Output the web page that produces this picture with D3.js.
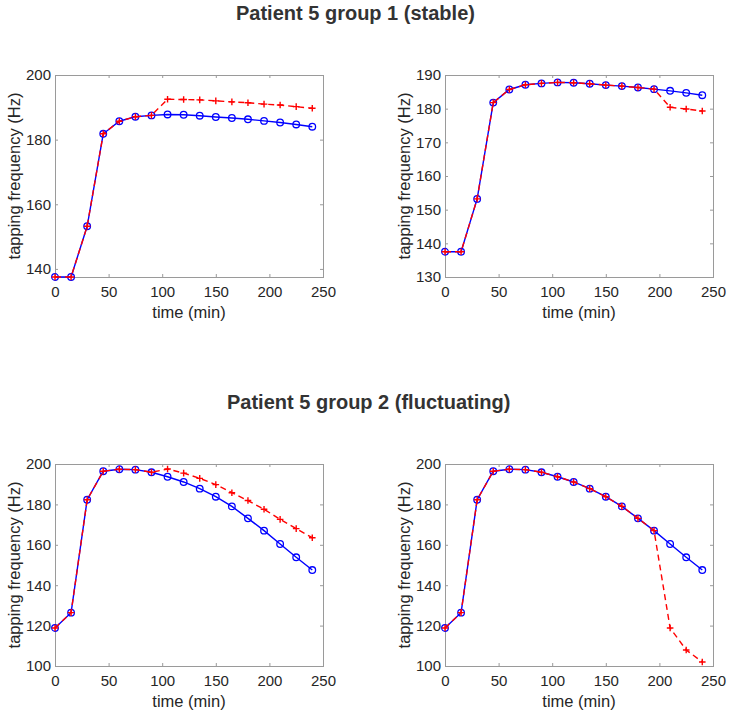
<!DOCTYPE html>
<html>
<head>
<meta charset="utf-8">
<script src="https://cdn.jsdelivr.net/npm/d3@7"></script>
<style>
  html, body { margin: 0; padding: 0; background: #fff; }
  svg { display: block; font-family: "Liberation Sans", Arial, Helvetica, sans-serif; }
</style>
</head>
<body>
<svg id="chart" width="750" height="714"></svg>
<script>
// ---- data ----
const times = [0, 15, 30, 45, 60, 75, 90, 105, 120, 135, 150, 165, 180, 195, 210, 225, 240];

const titles = ["Patient 5 group 1 (stable)", "Patient 5 group 2 (fluctuating)"];
const xTicks = [0, 50, 100, 150, 200, 250];
const yLabel = "tapping frequency (Hz)";
const xLabel = "time (min)";

// group 1 (stable)
const g1Blue  = [137.5, 137.5, 153.2, 181.8, 185.7, 187.1, 187.5, 187.8, 187.7, 187.4, 187.0, 186.7, 186.3, 185.8, 185.3, 184.7, 184.0];
const g1RedA  = [137.5, 137.5, 153.2, 181.8, 185.7, 187.1, 187.5, 192.5, 192.4, 192.3, 192.0, 191.7, 191.4, 191.0, 190.7, 190.2, 189.7];
const g1RedB  = [137.5, 137.5, 153.2, 181.8, 185.7, 187.1, 187.5, 187.8, 187.7, 187.4, 187.0, 186.7, 186.3, 185.8, 180.4, 179.9, 179.3];

// group 2 (fluctuating)
const g2Blue  = [118.8, 126.4, 182.3, 196.4, 197.4, 197.2, 195.9, 193.7, 191.1, 187.8, 183.8, 179.0, 173.1, 167.0, 160.4, 153.8, 147.5];
const g2RedA  = [118.8, 126.4, 182.3, 196.4, 197.4, 197.2, 195.9, 197.5, 195.5, 192.9, 189.8, 185.8, 181.9, 177.6, 172.6, 168.0, 163.5];
const g2RedB  = [118.8, 126.4, 182.3, 196.4, 197.4, 197.2, 195.9, 193.7, 191.1, 187.8, 183.8, 179.0, 173.1, 167.0, 118.8, 107.9, 102.0];

const yDomains = [[137.5, 200], [130, 190], [100, 200], [100, 200]];
const yTicksList = [[140, 160, 180, 200], [130, 140, 150, 160, 170, 180, 190], [100, 120, 140, 160, 180, 200], [100, 120, 140, 160, 180, 200]];

// ---- layout ----
const panels = [
  { left: 55,  top: 75,  blue: g1Blue, red: g1RedA, yd: yDomains[0], yt: yTicksList[0] },
  { left: 445, top: 75,  blue: g1Blue, red: g1RedB, yd: yDomains[1], yt: yTicksList[1] },
  { left: 55,  top: 464, blue: g2Blue, red: g2RedA, yd: yDomains[2], yt: yTicksList[2] },
  { left: 445, top: 464, blue: g2Blue, red: g2RedB, yd: yDomains[3], yt: yTicksList[3] }
];
const W = 268, H = 202;
const axisColor = "#9a9a9a", textColor = "#262626";

const svg = d3.select("#chart");

svg.append("text").attr("x", 236).attr("y", 20)
  .attr("font-size", 20).attr("font-weight", "bold").attr("fill", "#333")
  .text(titles[0]);
svg.append("text").attr("x", 227).attr("y", 409)
  .attr("font-size", 20).attr("font-weight", "bold").attr("fill", "#333")
  .text(titles[1]);

panels.forEach(p => {
  const g = svg.append("g").attr("transform", `translate(${p.left},${p.top})`);
  const x = d3.scaleLinear().domain([0, 250]).range([0, W]);
  const y = d3.scaleLinear().domain(p.yd).range([H, 0]);

  const styleAxis = sel => {
    sel.select(".domain").remove();
    sel.attr("font-size", 15).attr("font-family", "Liberation Sans, Arial, sans-serif");
    sel.selectAll(".tick line").attr("stroke", axisColor).attr("stroke-width", 1);
    sel.selectAll(".tick text").attr("fill", textColor);
  };
  g.append("g").attr("transform", `translate(0,${H})`)
    .call(d3.axisBottom(x).tickValues(xTicks).tickSizeInner(-3).tickSizeOuter(0).tickPadding(9))
    .call(styleAxis);
  g.append("g")
    .call(d3.axisTop(x).tickValues(xTicks).tickSizeInner(-3).tickSizeOuter(0).tickFormat(""))
    .call(styleAxis);
  g.append("g")
    .call(d3.axisLeft(y).tickValues(p.yt).tickSizeInner(-3).tickSizeOuter(0).tickPadding(4))
    .call(styleAxis);
  g.append("g").attr("transform", `translate(${W},0)`)
    .call(d3.axisRight(y).tickValues(p.yt).tickSizeInner(-3).tickSizeOuter(0).tickFormat(""))
    .call(styleAxis);

  g.append("rect").attr("x", 0.5).attr("y", 0.5).attr("width", W).attr("height", H)
    .attr("fill", "none").attr("stroke", axisColor).attr("stroke-width", 1);

  // labels
  g.append("text").attr("x", W / 2).attr("y", H + 41)
    .attr("text-anchor", "middle").attr("font-size", 16.5).attr("fill", textColor)
    .text(xLabel);
  g.append("text").attr("transform", `translate(-35,${H / 2}) rotate(-90)`)
    .attr("text-anchor", "middle").attr("font-size", 16.5).attr("fill", textColor)
    .text(yLabel);

  const line = d3.line().x((d, i) => x(times[i])).y(d => y(d));

  // blue model
  g.append("path").datum(p.blue).attr("d", line)
    .attr("fill", "none").attr("stroke", "#0000ff").attr("stroke-width", 1.4);
  g.selectAll("circle.b").data(p.blue).join("circle").attr("class", "b")
    .attr("cx", (d, i) => x(times[i])).attr("cy", d => y(d)).attr("r", 3.3)
    .attr("fill", "none").attr("stroke", "#0000ff").attr("stroke-width", 1.3);

  // red prediction
  g.append("path").datum(p.red).attr("d", line)
    .attr("fill", "none").attr("stroke", "#ff0000").attr("stroke-width", 1.4)
    .attr("stroke-dasharray", "6,4");
  const s = 3.3;
  g.selectAll("path.plus").data(p.red).join("path").attr("class", "plus")
    .attr("d", (d, i) => {
      const cx = x(times[i]), cy = y(d);
      return `M${cx - s},${cy}H${cx + s}M${cx},${cy - s}V${cy + s}`;
    })
    .attr("stroke", "#ff0000").attr("stroke-width", 1.4).attr("fill", "none");
});
</script>
</body>
</html>
